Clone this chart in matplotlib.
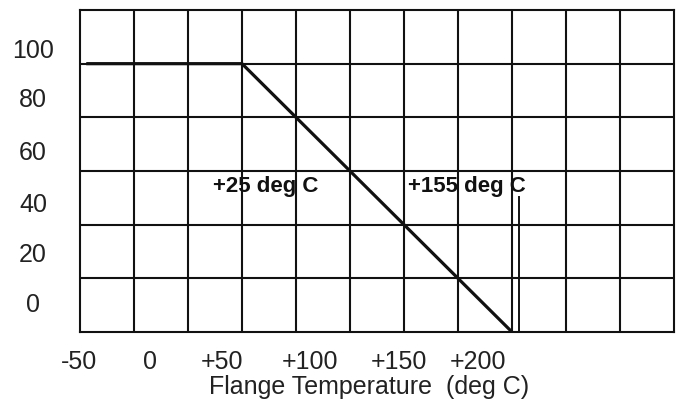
import matplotlib
matplotlib.use("Agg")
import matplotlib.pyplot as plt
import numpy as np
from matplotlib.transforms import blended_transform_factory

# ---- data ----
temp_pts = [-50, 25, 155]          # deg C
power_pts = [100, 100, 0]          # %
x_tick_labels = ["-50", "0", "+50", "+100", "+150", "+200"]
y_tick_labels = ["100", "80", "60", "40", "20", "0"]
annotations = ["+25 deg C", "+155 deg C"]
xlabel = "Flange Temperature  (deg C)"

# ---- layout ----
fig = plt.figure(figsize=(6.76, 4.05), dpi=100)
ax = fig.add_axes([80/676, 1-332/405, 594/676, 322/405])
ax.set_xlim(-53, 233)
ax.set_ylim(0, 120)

col = 26
for gx in np.arange(-53, 234, col)[1:-1]:
    ax.axvline(gx, color="#111111", lw=1.5, zorder=1)
for gy in np.arange(20, 120, 20):
    ax.axhline(gy, color="#111111", lw=1.5, zorder=1)
for s in ax.spines.values():
    s.set_linewidth(1.5)
    s.set_color("#111111")
ax.set_xticks([])
ax.set_yticks([])

ax.plot(temp_pts, power_pts, color="#111111", lw=2.3, zorder=3, solid_capstyle="butt")
# marker line at +155
ax.plot([158.5, 158.5], [0, 50.4], color="#111111", lw=1.4, zorder=3)

ax.text(11, 54.1, annotations[0], fontsize=16, fontweight="bold",
        family="Liberation Sans", ha="left", va="center", color="#111111", zorder=4)
ax.text(104.9, 54.1, annotations[1], fontsize=16, fontweight="bold",
        family="Liberation Sans", ha="left", va="center", color="#111111", zorder=4)

# tick labels (placed as in the reference)
xpos = [-53.5, -19.3, 15.4, 57.7, 100.6, 138.6]
tx = blended_transform_factory(ax.transData, ax.transAxes)
for p, lab in zip(xpos, x_tick_labels):
    ax.text(p, -30/322, lab, transform=tx, ha="center", va="center",
            fontsize=18, family="Liberation Sans", color="#222222")
ypos = [104.9, 86.6, 66.8, 47.4, 28.7, 10.1]
ty = blended_transform_factory(ax.transAxes, ax.transData)
for p, lab in zip(ypos, y_tick_labels):
    ax.text(-47/594, p, lab, transform=ty, ha="center", va="center",
            fontsize=18, family="Liberation Sans", color="#222222")

fig.text(369/676, 1-387/405, xlabel, ha="center", va="center",
         fontsize=18, family="Liberation Sans", color="#222222")

fig.savefig("out.png", dpi=100)
